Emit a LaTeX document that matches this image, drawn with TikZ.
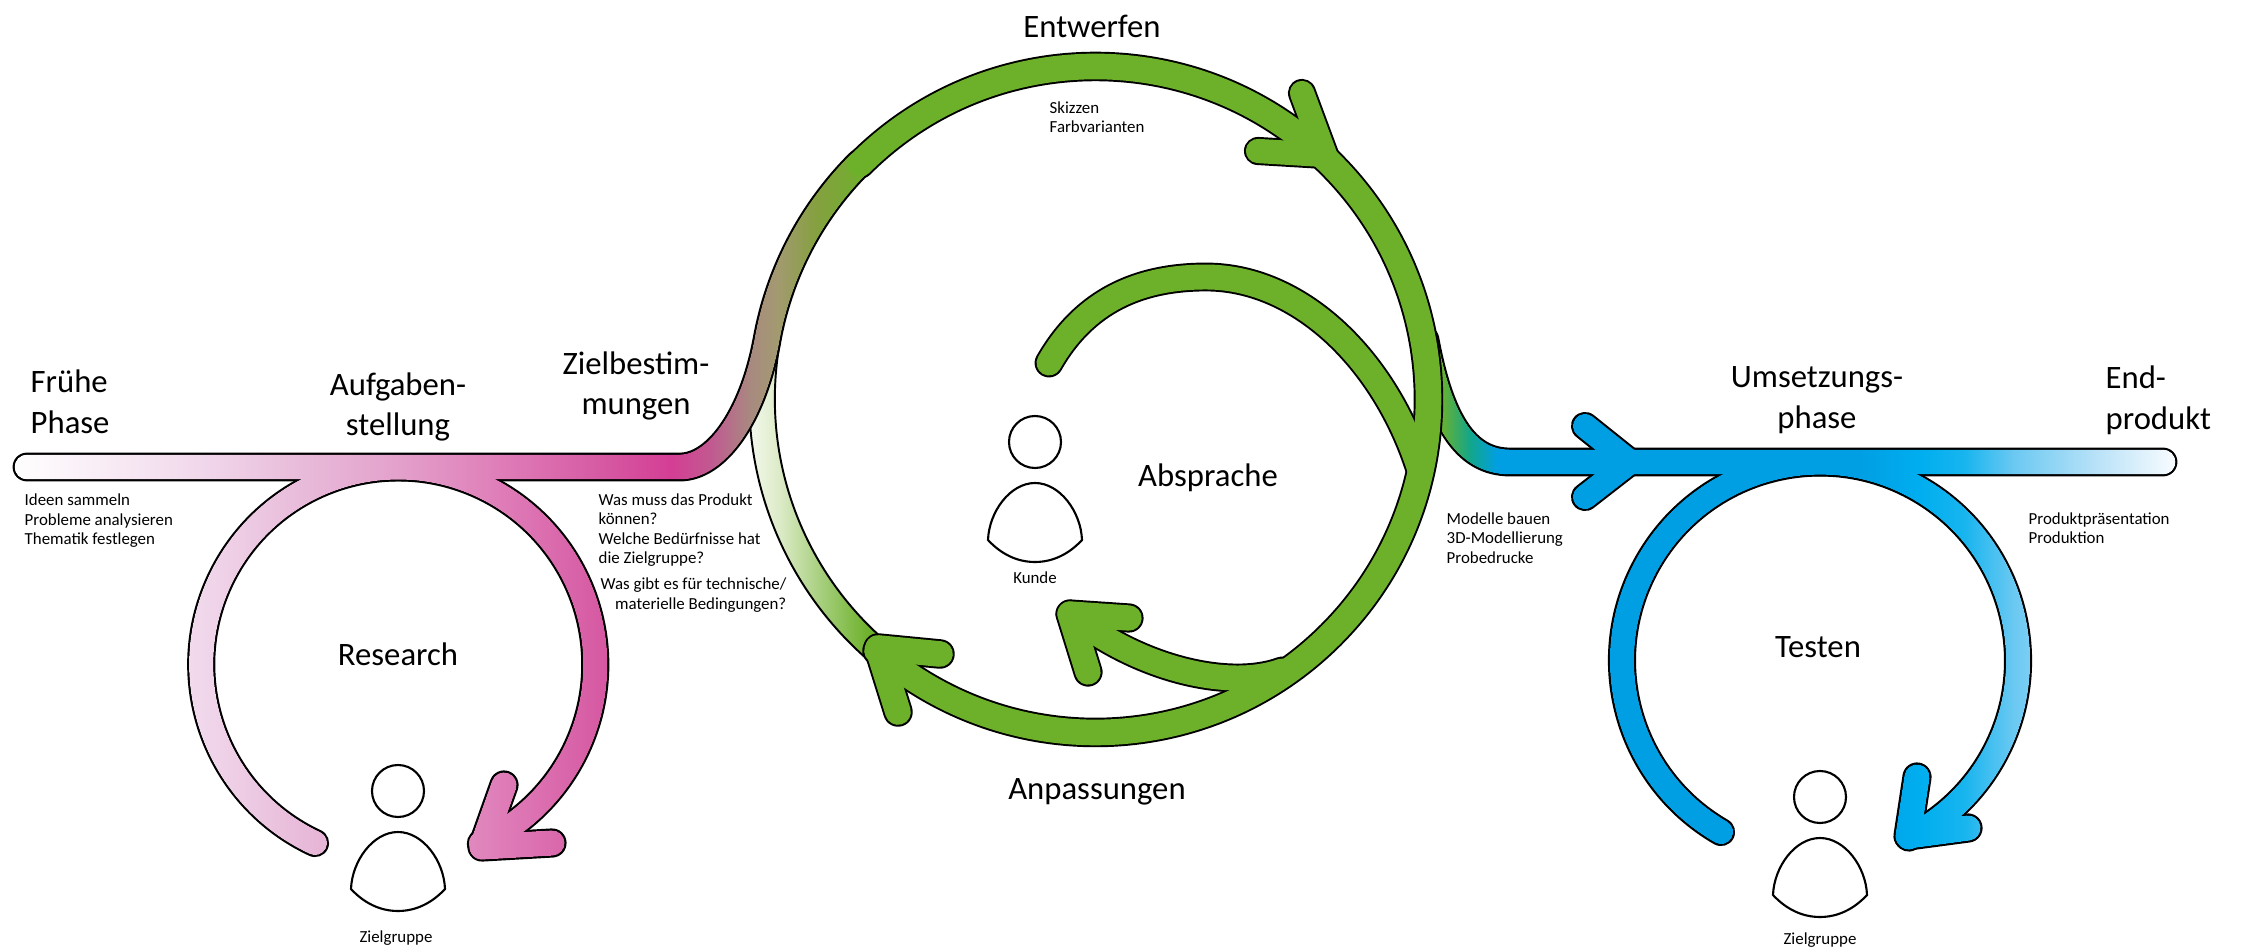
\documentclass[tikz,border=0pt]{standalone}
\usepackage{fontspec}
\setmainfont{Carlito}
\usetikzlibrary{fadings}

\definecolor{leaf}{HTML}{6DB12B}
\definecolor{skyblue}{HTML}{009FE3}
\definecolor{pinka}{HTML}{F1D8EB}
\definecolor{pinkb}{HTML}{E8BBDA}
\definecolor{pinkc}{HTML}{E3A0CB}
\definecolor{pinkd}{HTML}{DF7DB8}
\definecolor{pinke}{HTML}{D65AA3}
\definecolor{pinkf}{HTML}{D43E94}
\definecolor{mixa}{HTML}{C05B90}
\definecolor{mixb}{HTML}{A88A80}
\definecolor{mixc}{HTML}{A39A70}
\definecolor{mixd}{HTML}{85A040}
\definecolor{tealmix}{HTML}{12A68C}
\definecolor{bluea}{HTML}{00AEEF}
\definecolor{blueb}{HTML}{18B5EF}
\definecolor{bluec}{HTML}{6CC9F2}
\definecolor{blued}{HTML}{BCE3F8}
\definecolor{bluee}{HTML}{F4FAFE}
\definecolor{palea}{HTML}{DDEBC8}
\definecolor{paleb}{HTML}{A3CD78}

\pgfdeclarehorizontalshading{pinkgrad}{100bp}{
  color(0bp)=(white); color(25.7bp)=(white);
  color(36.1bp)=(pinka); color(41.7bp)=(pinkb);
  color(47.2bp)=(pinkc); color(52.8bp)=(pinkd);
  color(58.3bp)=(pinke); color(62.3bp)=(pinkf);
  color(64.6bp)=(mixa); color(66.7bp)=(mixb);
  color(68.2bp)=(mixc); color(70.3bp)=(mixd);
  color(73.3bp)=(leaf); color(100bp)=(leaf)}
\pgfdeclarehorizontalshading{bluegrad}{100bp}{
  color(0bp)=(leaf); color(27.5bp)=(leaf);
  color(29.4bp)=(tealmix);
  color(31.1bp)=(skyblue); color(53.75bp)=(skyblue);
  color(57.5bp)=(bluea); color(60.3bp)=(blueb);
  color(63.4bp)=(bluec); color(68.75bp)=(blued);
  color(73.1bp)=(bluee); color(100bp)=(white)}
\pgfdeclarehorizontalshading{palegrad}{100bp}{
  color(0bp)=(white); color(25.4bp)=(white);
  color(40bp)=(palea); color(54.8bp)=(paleb);
  color(69.5bp)=(leaf); color(100bp)=(leaf)}

\tikzset{
  band/.style={line cap=round,line join=round,line width=#1},
  biglabel/.style={align=center,inner sep=0pt,font=\fontsize{9.3}{11.6}\selectfont},
  smalllabel/.style={align=left,inner sep=0pt,font=\fontsize{4.8}{5.55}\selectfont},
  person/.pic={
    \draw[line width=0.6pt] (0,0) circle[radius=26];
    \draw[line width=0.6pt] (-47,98) .. controls (-46,70) and (-25,41) .. (0,41)
      .. controls (25,41) and (46,70) .. (47,98)
      .. controls (34,112) and (18,120) .. (0,120)
      .. controls (-18,120) and (-34,112) .. cycle;
  }
}

% #1 colour, #2 added width
\newcommand\pinkbands[2]{
  \draw[band=7.1pt+#2,#1] (27,467) -- (680,467) .. controls (715,467) and (752,420) .. (767,340)
    arc[start angle=190.2,end angle=225,radius=333];
  \draw[band=6.9pt+#2,#1] (315,843) arc[start angle=115,end angle=425.2,radius=197];
  \draw[band=7.2pt+#2,#1] (504,785) -- (482,847) -- (552,843);
}
\newcommand\bluebands[2]{
  \draw[band=7.1pt+#2,#1] (1425,340) .. controls (1440,420) and (1465,462) .. (1510,462) -- (2163,462);
  \draw[band=6.9pt+#2,#1] (1721,832) arc[start angle=120,end angle=423.4,radius=198];
  \draw[band=7.2pt+#2,#1] (1917,777) -- (1908,836) -- (1968,828);
  \draw[band=6.9pt+#2,#1] (1585,426) -- (1630,462) -- (1585,497);
}
\newcommand\greenbands[2]{
  \draw[band=7.3pt+#2,#1] (860,164) arc[start angle=225,end angle=491,radius=333];
  \draw[band=6.9pt+#2,#1] (1302,93) -- (1325,155) -- (1258,151);
  \draw[band=7.3pt+#2,#1] (940,654) -- (878,648) -- (898,712);
  \draw[band=7.1pt+#2,#1] (1049,363) .. controls (1085,300) and (1140,277) .. (1206,277)
    .. controls (1300,277) and (1385,360) .. (1420,470);
  \draw[band=7.1pt+#2,#1] (1282,671) .. controls (1230,690) and (1140,670) .. (1070,614);
  \draw[band=7.2pt+#2,#1] (1129,618) -- (1070,614) -- (1088,672);
}

\begin{tikzfadingfrompicture}[name=pinkmask,x=0.1mm,y=-0.1mm]
  \path (0,0) rectangle (900,952);
  \pinkbands{transparent!0}{0pt}
\end{tikzfadingfrompicture}
\begin{tikzfadingfrompicture}[name=bluemask,x=0.1mm,y=-0.1mm]
  \path (1400,0) rectangle (2200,952);
  \bluebands{transparent!0}{0pt}
\end{tikzfadingfrompicture}

\begin{document}
\begin{tikzpicture}[x=0.1mm,y=-0.1mm]
  \useasboundingbox (0,0) rectangle (2243,952);

  \shade[shading=palegrad,draw=black,line width=0.55pt] (868.1,660) arc[start angle=131,end angle=190,radius=345.8]
    -- (779.7,343.4) arc[start angle=190,end angle=131,radius=320.2] -- cycle;

  \bluebands{black}{1.1pt}
  \shade[shading=bluegrad,path fading=bluemask,fit fading=false,fading transform={shift={(1800,476)}}] (1400,0) rectangle (2200,952);

  \pinkbands{black}{1.1pt}
  \greenbands{black}{1.1pt}
  \shade[shading=pinkgrad,path fading=pinkmask,fit fading=false,fading transform={shift={(450,476)}}] (0,0) rectangle (900,952);
  \greenbands{leaf}{0pt}

  \pic (research) at (398,791) {person};
  \pic (kunde) at (1035,442) {person};
  \pic (testen) at (1820,797) {person};

  \node[biglabel,anchor=west,align=left] (fruehe) at (30,402) {Frühe\\Phase};
  \node[biglabel] (aufgabe) at (398,407) {Aufgaben-\\stellung};
  \node[biglabel] (ziel) at (636,386) {Zielbestim-\\mungen};
  \node[biglabel] (entwerfen) at (1092,26) {Entwerfen};
  \node[biglabel] (research) at (398,654) {Research};
  \node[biglabel] (absprache) at (1208,478) {Absprache};
  \node[biglabel] (anpassungen) at (1097,792) {Anpassungen};
  \node[biglabel] (umsetzung) at (1817,400) {Umsetzungs-\\phase};
  \node[biglabel,anchor=west,align=left] (end) at (2105,400) {End-\\produkt};
  \node[biglabel] (testenlabel) at (1818,647) {Testen};

  \node[smalllabel,anchor=west] (ideen) at (24,521) {Ideen sammeln\\Probleme analysieren\\Thematik festlegen};
  \node[smalllabel,anchor=west] (fragen) at (598,530) {Was muss das Produkt\\können?\\Welche Bedürfnisse hat\\die Zielgruppe?};
  \node[smalllabel,anchor=east,align=right] (technik) at (787,595) {Was gibt es für technische/\\materielle Bedingungen?};
  \node[smalllabel,anchor=west] (skizzen) at (1049,117) {Skizzen\\Farbvarianten};
  \node[smalllabel,anchor=west] (modelle) at (1446,538) {Modelle bauen\\3D-Modellierung\\Probedrucke};
  \node[smalllabel,anchor=west] (produkt) at (2028,528) {Produktpräsentation\\Produktion};
  \node[smalllabel] (zielgruppeL) at (396,938) {Zielgruppe};
  \node[smalllabel] (kundelabel) at (1035,578) {Kunde};
  \node[smalllabel] (zielgruppeR) at (1820,940) {Zielgruppe};
\end{tikzpicture}
\end{document}
